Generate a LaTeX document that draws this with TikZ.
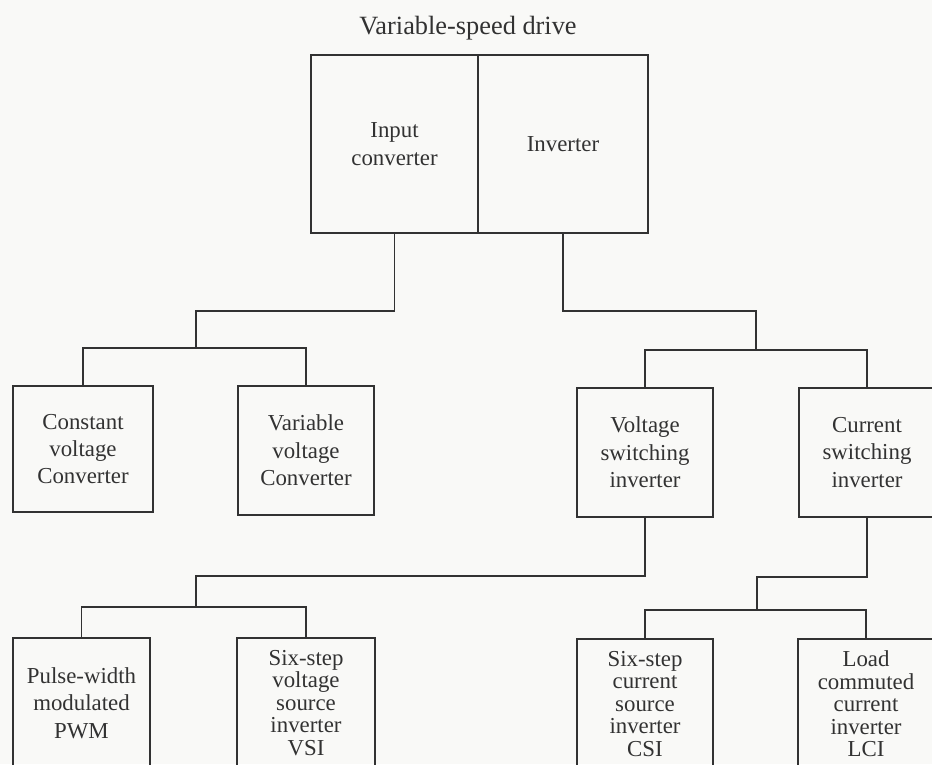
\documentclass[tikz,border=0pt]{standalone}
\usepackage{fontspec}
\setmainfont{Liberation Serif}
\definecolor{paper}{RGB}{249,249,247}
\definecolor{ink}{RGB}{50,50,50}
\begin{document}
\begin{tikzpicture}[x=0.02cm,y=-0.02cm,line width=1.1pt,draw=ink,
    box/.style={draw,align=center,inner sep=1pt,text=ink,
      minimum width=2.74cm,minimum height=2.58cm,
      font=\fontsize{13}{15.6}\selectfont},
    tight/.style={font=\fontsize{13}{12.8}\selectfont}]
      \clip (0,0) rectangle (932,764);
      \fill[paper] (0,0) rectangle (932,764);
      \node[text=ink,font=\fontsize{15}{18}\selectfont] (title) at (468,28) {Variable-speed drive};
      \node[box,minimum width=3.34cm,minimum height=3.56cm] (inconv) at (394.5,144) {Input\\converter};
      \node[box,minimum width=3.4cm,minimum height=3.56cm] (inv) at (563,144) {Inverter};
      \node[box,minimum width=2.8cm,minimum height=2.52cm] (constconv) at (83,449) {Constant\\voltage\\Converter};
      \node[box,minimum width=2.72cm] (varconv) at (306,450.5) {Variable\\voltage\\Converter};
      \node[box,minimum width=2.72cm] (vswitch) at (645,452.5) {Voltage\\switching\\inverter};
      \node[box,minimum width=2.72cm] (cswitch) at (867,452.5) {Current\\switching\\inverter};
      \node[box,minimum height=2.6cm] (pwm) at (81.5,703) {Pulse-width\\modulated\\PWM};
      \node[box,tight,minimum width=2.76cm,minimum height=2.6cm] (vsi) at (306,703) {Six-step\\voltage\\source\\inverter\\VSI};
      \node[box,tight,minimum width=2.72cm,minimum height=2.6cm] (csi) at (645,704) {Six-step\\current\\source\\inverter\\CSI};
      \node[box,tight,minimum width=2.72cm,minimum height=2.6cm] (lci) at (866,704) {Load\\commuted\\current\\inverter\\LCI};
      \coordinate (jl) at (196,311);
      \coordinate (jlb) at (196,348);
      \coordinate (jr) at (756,311);
      \coordinate (jrb) at (756,350);
      \coordinate (kl) at (196,576);
      \coordinate (klb) at (196,607);
      \coordinate (kr) at (757,577);
      \coordinate (krb) at (757,610);
      \begin{scope}[-]
        \draw (inconv.south) |- (jl) -- (jlb);
        \draw (constconv.north) |- (jlb) -| (varconv.north);
        \draw (inv.south) |- (jr) -- (jrb);
        \draw (vswitch.north) |- (jrb) -| (cswitch.north);
        \draw (vswitch.south) |- (kl) -- (klb);
        \draw (pwm.north) |- (klb) -| (vsi.north);
        \draw (cswitch.south) |- (kr) -- (krb);
        \draw (csi.north) |- (krb) -| (lci.north);
      \end{scope}
    \end{tikzpicture}
\end{document}
